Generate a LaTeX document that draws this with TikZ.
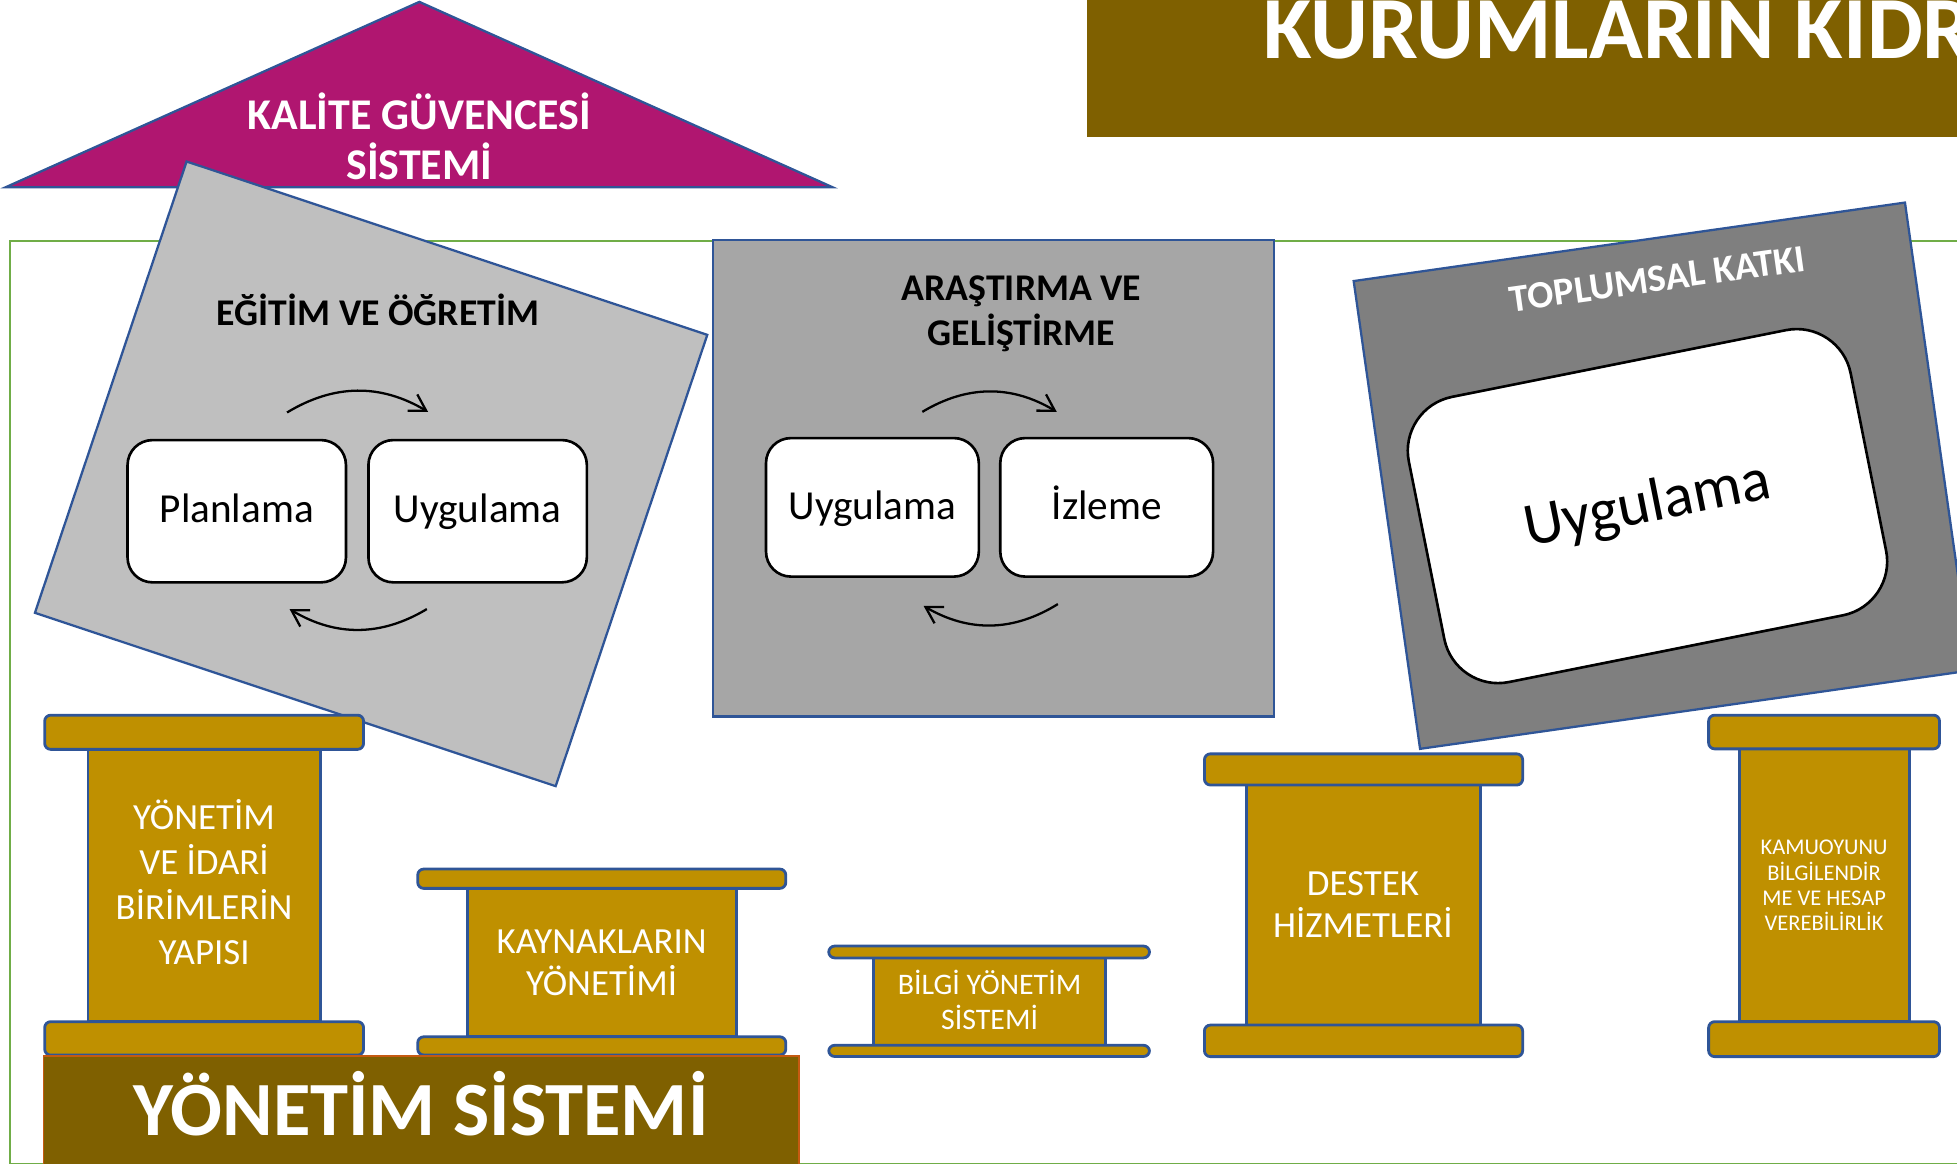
\documentclass[tikz,border=0pt]{standalone}
\usepackage{fontspec}
\setmainfont{Carlito}
\usetikzlibrary{arrows.meta}
\definecolor{magentaK}{HTML}{B01670}
\definecolor{brownK}{HTML}{7F6000}
\definecolor{goldK}{HTML}{BF9000}
\definecolor{grayA}{HTML}{BFBFBF}
\definecolor{grayB}{HTML}{A6A6A6}
\definecolor{grayC}{HTML}{7F7F7F}
\definecolor{blueK}{HTML}{2F5597}
\definecolor{greenK}{HTML}{70AD47}
\definecolor{orangeK}{HTML}{C55A11}
\newcommand{\pxu}{0.025cm}
\newcommand{\fsz}[1]{\fontsize{#1}{#1}\selectfont}
\begin{document}
\begin{tikzpicture}[x=0.025cm, y=-0.025cm,
  wbox/.style={draw=black, line width=1.5pt, fill=white, rounded corners=0.5cm,
    minimum width=175*\pxu, minimum height=114*\pxu, text height=15pt, text depth=1.6pt,
    inner sep=0pt, font=\fsz{23.5}},
  cyc/.style={line width=1.3pt, -{Straight Barb[length=3.2mm,width=3.8mm]}},
  sq/.style={draw=blueK, line width=1.3pt},
  pil/.style={fill=goldK, draw=blueK, line width=1.6pt},
  pcap/.style={pil, rounded corners=1.2mm},
  ptxt/.style={text=white, anchor=base, inner sep=0pt},
  ttl/.style={font=\bfseries\fsz{21.5}, anchor=base, inner sep=0pt}
]
\useasboundingbox (0,0) rectangle (1568,932);

% green frame
\draw[greenK, line width=1.3pt] (1600,193) -- (8,193) -- (8,933) -- (1600,933);

% top-right banner
\fill[brownK] (871,-5) rectangle (1600,109.5);
\node[font=\bfseries\fsz{50.5}, text=white, anchor=base west, inner sep=0pt] (kidr) at (1012,47) {KURUMLARIN KİDR};

% roof triangle
\draw[fill=magentaK, draw=blueK, line width=1.3pt] (336,1.5) -- (667,150) -- (4.6,150) -- cycle;
\node[font=\bfseries\fsz{25}, text=white, anchor=base, inner sep=0pt] (kal1) at (336,104) {KALİTE GÜVENCESİ};
\node[font=\bfseries\fsz{25}, text=white, anchor=base, inner sep=0pt] (kal2) at (336,144) {SİSTEMİ};

% Egitim ve ogretim
\draw[sq, fill=grayA] (149.5,129.4) -- (566.7,268.3) -- (445.2,629.9) -- (28,491) -- cycle;
\node[ttl] (eg) at (303,261) {EĞİTİM VE ÖĞRETİM};
\node[wbox] (plan) at (189.7,409.6) {Planlama};
\node[wbox] (uyg1) at (382.7,409.6) {Uygulama};
\coordinate (e1) at (230,330.5);
\coordinate (e2) at (343,330);
\coordinate (e3) at (342,488);
\coordinate (e4) at (232,488);
\draw[cyc] (e1) to[bend left=31] (e2);
\draw[cyc] (e3) to[bend left=31] (e4);

% Arastirma ve gelistirme
\draw[sq, fill=grayB] (571,192.5) rectangle (1021,574);
\node[ttl] (ar1) at (818.5,241) {ARAŞTIRMA VE};
\node[ttl] (ar2) at (818.5,277) {GELİŞTİRME};
\node[wbox, minimum width=170.5*\pxu, minimum height=111*\pxu] (uyg2) at (699,406.5) {Uygulama};
\node[wbox, minimum width=170.5*\pxu, minimum height=111*\pxu] (izl) at (886.7,406.5) {İzleme};
\coordinate (r1) at (739,330);
\coordinate (r2) at (846.7,330);
\coordinate (r3) at (847.6,484);
\coordinate (r4) at (740,485.5);
\draw[cyc] (r1) to[bend left=31] (r2);
\draw[cyc] (r3) to[bend left=31] (r4);

% Toplumsal katki
\draw[sq, fill=grayC] (1084.6,225.2) -- (1526.3,162.3) -- (1579.5,537.1) -- (1137.8,600) -- cycle;
\node[font=\bfseries\fsz{22}, text=white, rotate=8, inner sep=0pt] (top) at (1328,223.5) {TOPLUMSAL KATKI};
\node[draw=black, line width=1.5pt, fill=white, rounded corners=1.1cm,
  minimum width=361*\pxu, minimum height=233*\pxu, rotate=11.3, font=\fsz{35}] (uyg3) at (1320,405.5) {Uygulama};

% Pillar 1
\draw[pil] (70.5,600) rectangle (256.5,818.6);
\draw[pcap] (35.8,573) rectangle (291.3,600.4);
\draw[pcap] (35.8,818.6) rectangle (291.3,845.4);
\node[ptxt, font=\fsz{21}] (p1a) at (163.5,665) {YÖNETİM};
\node[ptxt, font=\fsz{21}] (p1b) at (163.5,701) {VE İDARİ};
\node[ptxt, font=\fsz{21}] (p1c) at (163.5,737) {BİRİMLERİN};
\node[ptxt, font=\fsz{21}] (p1d) at (163.5,772.4) {YAPISI};

% Pillar 2
\draw[pil] (374.6,711.8) rectangle (590.2,830.7);
\draw[pcap] (334.7,696.3) rectangle (629.6,711.8);
\draw[pcap] (334.7,830.7) rectangle (629.6,845.3);
\node[ptxt, font=\fsz{21}] (p2a) at (482,763.9) {KAYNAKLARIN};
\node[ptxt, font=\fsz{21}] (p2b) at (482,797.3) {YÖNETİMİ};

% Pillar 3
\draw[pil] (700,767) rectangle (886,837.5);
\draw[pcap] (664,758) rectangle (921,767.5);
\draw[pcap] (664,837.5) rectangle (921,846.5);
\node[ptxt, font=\fsz{17}] (p3a) at (792.9,796.7) {BİLGİ YÖNETİM};
\node[ptxt, font=\fsz{17}] (p3b) at (792.9,824.8) {SİSTEMİ};

% Pillar 4
\draw[pil] (999,629) rectangle (1186,821.3);
\draw[pcap] (965,604) rectangle (1220,629);
\draw[pcap] (965,821.3) rectangle (1220,846.6);
\node[ptxt, font=\fsz{21}] (p4a) at (1092,717.2) {DESTEK};
\node[ptxt, font=\fsz{21}] (p4b) at (1092,751) {HİZMETLERİ};

% Pillar 5
\draw[pil] (1394,600) rectangle (1530,818.6);
\draw[pcap] (1369,573) rectangle (1554,600);
\draw[pcap] (1369,818.6) rectangle (1554,846.6);
\node[ptxt, font=\fsz{12.8}] (p5a) at (1461.5,684.3) {KAMUOYUNU};
\node[ptxt, font=\fsz{12.8}] (p5b) at (1461.5,705.1) {BİLGİLENDİR};
\node[ptxt, font=\fsz{12.8}] (p5c) at (1461.5,725.2) {ME VE HESAP};
\node[ptxt, font=\fsz{12.8}] (p5d) at (1461.5,745.7) {VEREBİLİRLİK};

% bottom banner
\draw[fill=brownK, draw=orangeK, line width=1pt] (34.8,845.9) rectangle (640.3,945);
\node[font=\bfseries\fsz{43.7}, text=white, anchor=base, inner sep=0pt] (ys) at (337.3,910) {YÖNETİM SİSTEMİ};
\end{tikzpicture}
\end{document}
